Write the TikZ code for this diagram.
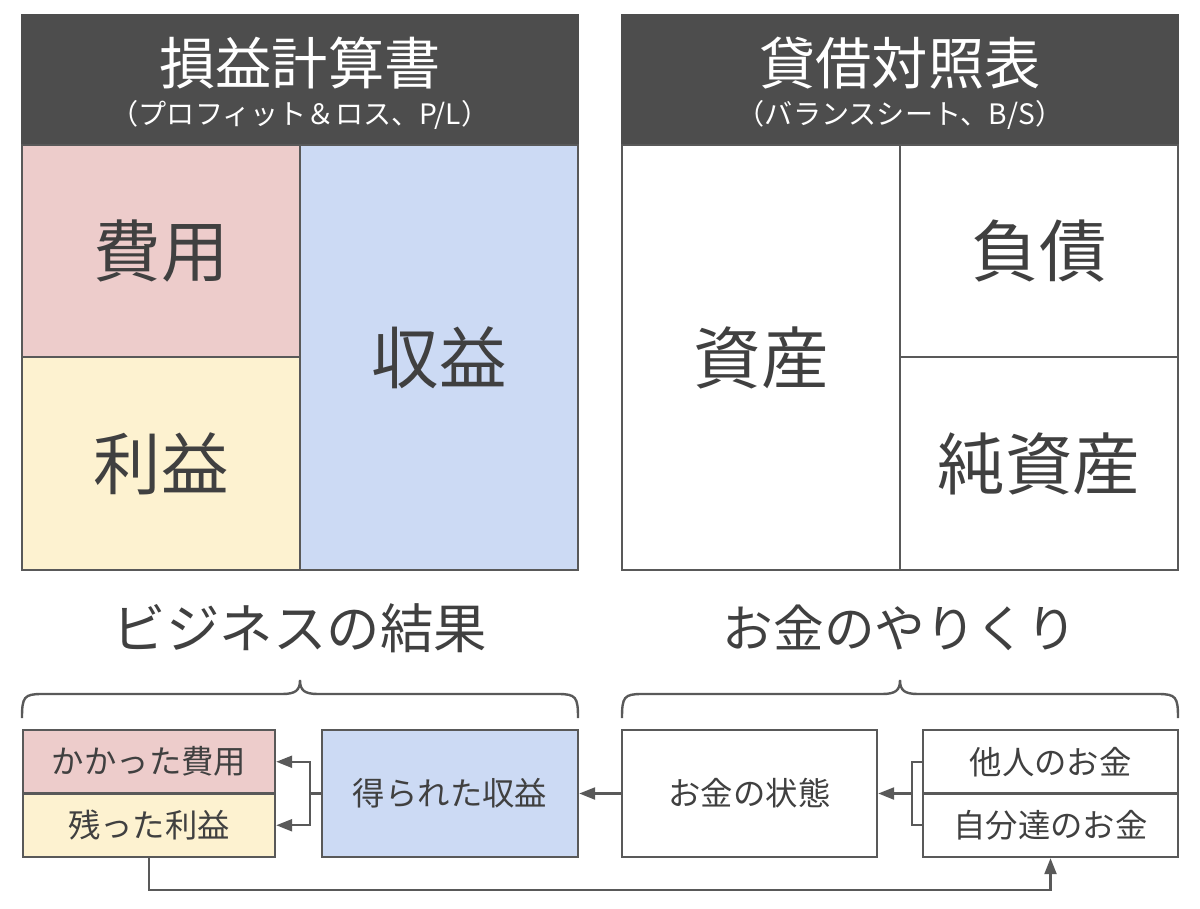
\documentclass[tikz,border=0pt]{standalone}
\usepackage{fontspec}
\setmainfont{Noto Sans CJK JP}
\usetikzlibrary{arrows.meta}
\definecolor{headgray}{HTML}{4D4D4D}
\definecolor{linegray}{HTML}{595959}
\definecolor{textgray}{HTML}{404040}
\definecolor{costpink}{HTML}{EDCCCB}
\definecolor{profityellow}{HTML}{FDF2D0}
\definecolor{revblue}{HTML}{CCDAF4}

\begin{document}
\begin{tikzpicture}[x=0.025cm, y=-0.025cm,
    box/.style={draw=linegray, line width=1.7pt, text=textgray, inner sep=0pt},
    head/.style={fill=headgray, draw=headgray, line width=1.7pt, minimum width=13.9cm, minimum height=3.25cm},
    link/.style={draw=linegray, line width=1.7pt, -{Triangle[length=0.4cm,width=0.3cm]}}]
    \fill[white] (0,0) rectangle (1200,908);
    \useasboundingbox (0,0) rectangle (1200,908);
    % Headers
    \foreach \name/\x/\title/\sub in {PL/300/損益計算書/{（プロフィット＆ロス、P/L）}, BS/900/貸借対照表/{（バランスシート、B/S）}} {
        \node[head] (\name-head) at (\x,80) {};
        \node[text=white, font=\fontsize{40}{44}\selectfont] (\name-title) at (\x,63) {\title};
        \node[text=white, font=\fontsize{20}{24}\selectfont] (\name-sub) at (\x,115) {\sub};
    }
    % P/L blocks
    \foreach \name/\label/\col/\x/\y/\h in {Cost/費用/costpink/161/251/5.3, Profit/利益/profityellow/161/463.5/5.325, Revenue/収益/revblue/439/357.5/10.625} {
        \node[box, fill=\col, minimum width=6.95cm, minimum height=\h cm, font=\fontsize{48}{50}\selectfont] (PL-\name) at (\x,\y) {\label};
    }
    % B/S blocks
    \foreach \name/\label/\x/\y/\h in {Assets/資産/761/357.5/10.625, Debt/負債/1039/251/5.3, Equity/純資産/1039/463.5/5.325} {
        \node[box, fill=white, minimum width=6.95cm, minimum height=\h cm, font=\fontsize{48}{50}\selectfont] (BS-\name) at (\x,\y) {\label};
    }
    % Captions
    \node[text=textgray, font=\fontsize{38}{40}\selectfont] (PL-caption) at (300,628) {ビジネスの結果};
    \node[text=textgray, font=\fontsize{36}{40}\selectfont] (BS-caption) at (900,628) {お金のやりくり};
    % Braces
    \foreach \s in {0,600} {
        \draw[linegray, line width=1.7pt, shift={(\s,0)}] (22,718) .. controls (22,697) and (24,694) .. (42,694) -- (282,694)
            .. controls (296,694) and (300,690) .. (300,680) .. controls (300,690) and (304,694) .. (318,694) -- (558,694)
            .. controls (576,694) and (578,697) .. (578,718);
    }
    % Bottom flow
    \node[box, fill=costpink, minimum width=6.3cm, minimum height=1.5875cm, font=\fontsize{23}{26}\selectfont] (Spent) at (149,761.75) {かかった費用};
    \node[box, fill=profityellow, minimum width=6.3cm, minimum height=1.5875cm, font=\fontsize{23}{26}\selectfont] (Kept) at (149,825.25) {残った利益};
    \node[box, fill=revblue, minimum width=6.4cm, minimum height=3.175cm, font=\fontsize{23}{26}\selectfont] (Earned) at (450,793.5) {得られた収益};
    \node[box, fill=white, minimum width=6.375cm, minimum height=3.175cm, font=\fontsize{23}{26}\selectfont] (State) at (749.5,793.5) {お金の状態};
    \node[box, fill=white, minimum width=6.375cm, minimum height=1.5875cm, font=\fontsize{23}{26}\selectfont] (Others) at (1050.5,761.75) {他人のお金};
    \node[box, fill=white, minimum width=6.375cm, minimum height=1.5875cm, font=\fontsize{23}{26}\selectfont] (Own) at (1050.5,825.25) {自分達のお金};
    % Arrows
    \coordinate (split-L) at (310,793.5);
    \coordinate (split-R) at (912,793.5);
    \draw[linegray, line width=1.7pt] (Earned.west) -- (split-L);
    \draw[link] (split-L) |- (Spent.east);
    \draw[link] (split-L) |- (Kept.east);
    \draw[link] (State.west) -- (Earned.east);
    \draw[linegray, line width=1.7pt] (Others.west) -| (split-R) |- (Own.west);
    \draw[link] (split-R) -- (State.east);
    \draw[link] (Kept.south) -- ++(0,32) -| (Own.south);
\end{tikzpicture}
\end{document}
